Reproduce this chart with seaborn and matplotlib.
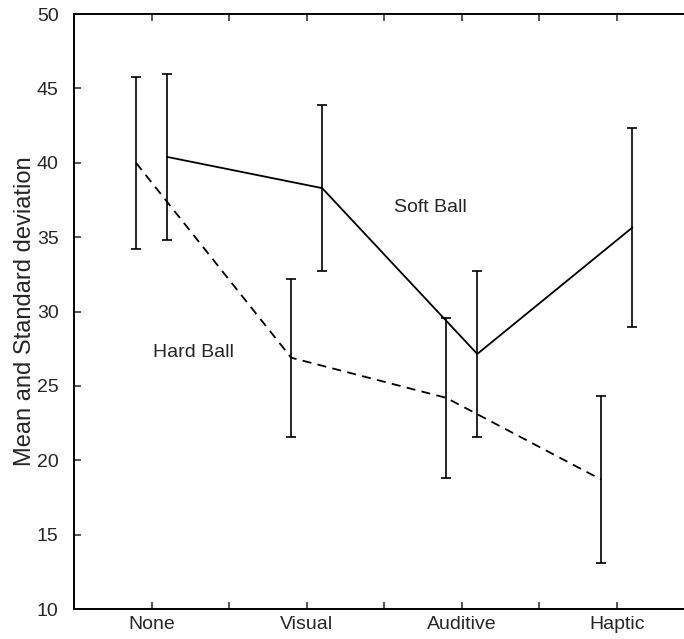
import matplotlib
matplotlib.use("Agg")
import matplotlib.pyplot as plt
import seaborn as sns
import pandas as pd
import numpy as np

conditions = ["None", "Visual", "Auditive", "Haptic"]
soft_mean = [40.4, 38.3, 27.15, 35.65]
soft_sd = [5.6, 5.6, 5.6, 6.7]
hard_mean = [40.0, 26.9, 24.2, 18.7]
hard_sd = [5.8, 5.3, 5.4, 5.6]

sns.set_style("ticks")
plt.rcParams["font.family"] = ["Liberation Sans", "DejaVu Sans"]

idx = np.arange(len(conditions))
soft = pd.DataFrame({"pos": idx + 0.1, "mean": soft_mean, "sd": soft_sd})
hard = pd.DataFrame({"pos": idx - 0.1, "mean": hard_mean, "sd": hard_sd})

fig = plt.figure(figsize=(6.84, 6.39), dpi=100)
ax = fig.add_axes([0.1082, 0.0469, 0.907, 0.931])

sns.lineplot(data=soft, x="pos", y="mean", color="black", lw=1.3, ax=ax)
sns.lineplot(data=hard, x="pos", y="mean", color="black", lw=1.3,
             dashes=False, ax=ax, linestyle=(0, (5, 3.5)))

for d in (soft, hard):
    ax.errorbar(d["pos"], d["mean"], yerr=d["sd"], fmt="none", ecolor="black",
                elinewidth=1.2, capsize=3.3, capthick=1.2)

ax.text(1.797, 36.69, "Soft Ball", ha="center", va="baseline", fontsize=14)
ax.text(0.271, 26.94, "Hard Ball", ha="center", va="baseline", fontsize=14)

ax.set_xlim(-0.5, 3.5)
ax.set_ylim(10, 50)
ax.set_xticks(idx)
ax.set_xticklabels(conditions)
ax.set_xticks(idx + 0.5, minor=True)
ax.set_yticks(range(10, 51, 5))
ax.tick_params(axis="x", which="both", direction="in", top=True, bottom=True,
               length=5, width=1.1, labelsize=14, pad=5)
ax.tick_params(axis="y", direction="in", left=True, right=False,
               length=5, width=1.1, labelsize=14, pad=11)
ax.set_xlabel("")
ax.set_ylabel("Mean and Standard deviation", fontsize=17)
ax.yaxis.set_label_coords(-0.061, 0.5)
for s in ax.spines.values():
    s.set_linewidth(1.4)
    s.set_color("black")

fig.savefig("out.png", dpi=100)
